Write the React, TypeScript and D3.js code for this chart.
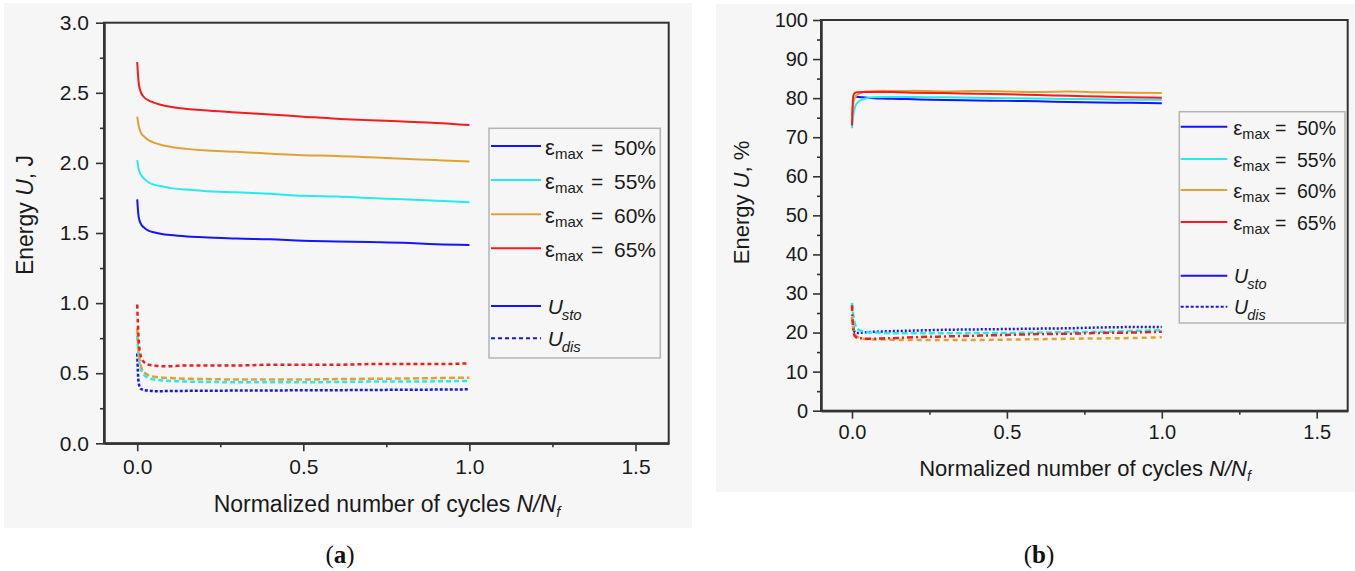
import React, { useEffect, useRef } from 'react';
import * as d3 from 'd3';

// shared x positions of the sampled points (normalized cycles N/Nf)
const cycleFractions = [0, 0.004, 0.01, 0.02, 0.035, 0.05, 0.07, 0.1, 0.15, 0.2, 0.3, 0.4, 0.5, 0.6, 0.7, 0.8, 0.9, 1.0];
const strainLevels = ['50%', '55%', '60%', '65%'];
const seriesColors = ['#1414ff', '#22eef0', '#e2a232', '#f41c1c'];

// (a) energy in J
const storedJ50 = [1.74, 1.62, 1.57, 1.54, 1.515, 1.505, 1.495, 1.485, 1.475, 1.47, 1.46, 1.455, 1.445, 1.44, 1.435, 1.43, 1.42, 1.415];
const storedJ55 = [2.02, 1.96, 1.92, 1.89, 1.86, 1.845, 1.835, 1.82, 1.81, 1.8, 1.79, 1.78, 1.765, 1.76, 1.75, 1.74, 1.73, 1.72];
const storedJ60 = [2.33, 2.27, 2.22, 2.19, 2.16, 2.145, 2.13, 2.115, 2.1, 2.09, 2.08, 2.065, 2.055, 2.05, 2.04, 2.03, 2.02, 2.01];
const storedJ65 = [2.72, 2.58, 2.51, 2.47, 2.445, 2.43, 2.415, 2.4, 2.385, 2.375, 2.36, 2.345, 2.33, 2.315, 2.305, 2.295, 2.285, 2.27];
const dissJ50 = [0.64, 0.44, 0.39, 0.38, 0.375, 0.372, 0.372, 0.373, 0.374, 0.375, 0.376, 0.377, 0.378, 0.379, 0.38, 0.382, 0.383, 0.385];
const dissJ55 = [0.77, 0.63, 0.54, 0.49, 0.465, 0.455, 0.45, 0.445, 0.44, 0.438, 0.435, 0.435, 0.435, 0.437, 0.44, 0.44, 0.442, 0.445];
const dissJ60 = [0.82, 0.66, 0.56, 0.51, 0.485, 0.475, 0.47, 0.465, 0.46, 0.458, 0.455, 0.455, 0.455, 0.458, 0.46, 0.462, 0.465, 0.468];
const dissJ65 = [0.99, 0.75, 0.63, 0.58, 0.56, 0.555, 0.55, 0.55, 0.555, 0.555, 0.555, 0.56, 0.56, 0.56, 0.565, 0.565, 0.565, 0.57];

// (b) energy in %
const storedP50 = [null, null, 80.4, 80.3, 80.2, 80.1, 80.0, 79.9, 79.8, 79.7, 79.5, 79.4, 79.3, 79.2, 79.0, 78.9, 78.8, 78.7];
const storedP55 = [72.3, 75.5, 77.8, 79.0, 79.7, 80.0, 80.2, 80.3, 80.3, 80.3, 80.2, 80.1, 80.0, 79.9, 79.8, 79.7, 79.6, 79.6];
const storedP60 = [75.5, 78.5, 80.2, 81.0, 81.5, 81.7, 81.8, 81.9, 81.8, 81.9, 81.7, 81.8, 81.7, 81.6, 81.7, 81.5, 81.4, 81.3];
const storedP65 = [73.0, 80.5, 81.4, 81.5, 81.6, 81.6, 81.6, 81.6, 81.5, 81.4, 81.3, 81.1, 81.0, 80.8, 80.6, 80.4, 80.2, 80.1];
const dissP50 = [null, 21.5, 20.0, 19.9, 20.0, 20.1, 20.2, 20.3, 20.4, 20.5, 20.7, 20.8, 20.9, 21.0, 21.1, 21.3, 21.4, 21.4];
const dissP55 = [27.6, 24.5, 22.0, 20.8, 20.3, 20.1, 20.0, 19.9, 19.8, 19.8, 19.8, 19.9, 19.9, 20.0, 20.1, 20.2, 20.4, 20.6];
const dissP60 = [24.0, 21.0, 19.5, 18.8, 18.4, 18.3, 18.2, 18.2, 18.1, 18.1, 18.1, 18.1, 18.2, 18.3, 18.4, 18.5, 18.6, 18.8];
const dissP65 = [27.0, 21.0, 19.0, 18.6, 18.5, 18.4, 18.4, 18.5, 18.6, 18.8, 19.0, 19.2, 19.4, 19.6, 19.7, 19.9, 20.0, 20.2];

const xMajorTicks = [0, 0.5, 1.0, 1.5];
const xMinorTicks = [0.25, 0.75, 1.25];

const FONT = "'Liberation Sans', Arial, sans-serif";
const AXIS_COLOR = '#333';

const panels = [
    {
        bg: [4, 3, 688, 525],
        left: 104, right: 668.7, top: 22.7, bottom: 443.3,
        yMax: 3, yMajor: d3.range(0, 3.01, 0.5), yMinor: d3.range(0.25, 3, 0.5), yFormat: d3.format('.1f'),
        tickFont: 21, tickPadX: 8, tickPadY: 7,
        stored: [storedJ50, storedJ55, storedJ60, storedJ65],
        dissipated: [dissJ50, dissJ55, dissJ60, dissJ65],
        dashes: ['3,2', '5,3', '6,3', '4,3'],
        yTitle: {x: 32.5, y: 215, unit: ', J', size: 23},
        xTitle: {x: 387, y: 512, size: 23},
        tag: {x: 340, y: 563, label: 'a'},
        legend: {
            box: [489, 128.3, 171.3, 229.7], line: [491, 541], rows: [146, 180, 214.3, 248.3],
            sto: 306, dis: 338.3, eps: 545, subGap: 10, eq: 591, pct: 614, font: 21, sub: 15, base: 9,
            uX: 547.7, uSub: 561.7, uBase: 8, disDash: '4,3'
        }
    },
    {
        bg: [716, 4, 639, 488],
        left: 821, right: 1347.7, top: 20, bottom: 410.7,
        yMax: 100, yMajor: d3.range(0, 101, 10), yMinor: d3.range(5, 100, 10), yFormat: d3.format('d'),
        tickFont: 20, tickPadX: 6, tickPadY: 5,
        stored: [storedP50, storedP55, storedP60, storedP65],
        dissipated: [dissP50, dissP55, dissP60, dissP65],
        dashes: ['2,2', '6,3', '5,4', '6,3,2,3'],
        yTitle: {x: 748.7, y: 202.5, unit: ', %', size: 22},
        xTitle: {x: 1085, y: 476, size: 22},
        tag: {x: 1039, y: 563, label: 'b'},
        legend: {
            box: [1179.3, 111.7, 165.7, 211.3], line: [1180.7, 1227.3], rows: [126.7, 159, 190, 222],
            sto: 275.7, dis: 306.7, eps: 1233.3, subGap: 9, eq: 1275, pct: 1297, font: 19.5, sub: 14.5, base: 8.3,
            uX: 1234, uSub: 1247.3, uBase: 7, disDash: '3,2'
        }
    }
];

function styleAxis(axisG, fontSize) {
    axisG.select('.domain').attr('stroke', AXIS_COLOR).attr('stroke-width', 2);
    axisG.selectAll('.tick line').attr('stroke', AXIS_COLOR).attr('stroke-width', 1.6);
    axisG.selectAll('.tick text')
        .attr('fill', '#1a1a1a')
        .style('font-family', FONT)
        .style('font-size', fontSize + 'px');
}

function drawPanel(svg, p) {
    const x = d3.scaleLinear().domain([-0.1, 1.6]).range([p.left, p.right]);
    const y = d3.scaleLinear().domain([0, p.yMax]).range([p.bottom, p.top]);
    const g = svg.append('g');

    g.append('rect')
        .attr('x', p.bg[0]).attr('y', p.bg[1])
        .attr('width', p.bg[2]).attr('height', p.bg[3])
        .attr('fill', '#f6f6f6');

    // minor ticks
    g.append('g')
        .attr('transform', `translate(0,${p.bottom})`)
        .call(d3.axisBottom(x).tickValues(xMinorTicks).tickSize(4).tickSizeOuter(0).tickFormat(() => ''))
        .call(a => styleAxis(a, p.tickFont));
    g.append('g')
        .attr('transform', `translate(${p.left},0)`)
        .call(d3.axisLeft(y).tickValues(p.yMinor).tickSize(4).tickSizeOuter(0).tickFormat(() => ''))
        .call(a => styleAxis(a, p.tickFont));

    // major ticks
    g.append('g')
        .attr('transform', `translate(0,${p.bottom})`)
        .call(d3.axisBottom(x).tickValues(xMajorTicks).tickSize(8).tickSizeOuter(0)
            .tickPadding(p.tickPadX).tickFormat(d3.format('.1f')))
        .call(a => styleAxis(a, p.tickFont));
    g.append('g')
        .attr('transform', `translate(${p.left},0)`)
        .call(d3.axisLeft(y).tickValues(p.yMajor).tickSize(8).tickSizeOuter(0)
            .tickPadding(p.tickPadY).tickFormat(p.yFormat))
        .call(a => styleAxis(a, p.tickFont));

    // frame
    g.append('rect')
        .attr('x', p.left).attr('y', p.top)
        .attr('width', p.right - p.left).attr('height', p.bottom - p.top)
        .attr('fill', 'none').attr('stroke', AXIS_COLOR).attr('stroke-width', 2);

    const line = d3.line()
        .defined(v => v != null)
        .x((_, i) => x(cycleFractions[i]))
        .y(v => y(v))
        .curve(d3.curveMonotoneX);

    p.dissipated.forEach((vals, i) => {
        g.append('path')
            .attr('d', line(vals))
            .attr('fill', 'none')
            .attr('stroke', seriesColors[i])
            .attr('stroke-width', 2.5)
            .attr('stroke-dasharray', p.dashes[i]);
    });
    p.stored.forEach((vals, i) => {
        g.append('path')
            .attr('d', line(vals))
            .attr('fill', 'none')
            .attr('stroke', seriesColors[i])
            .attr('stroke-width', 2)
            .attr('stroke-linejoin', 'round');
    });

    // axis titles
    const yt = g.append('text')
        .attr('transform', `translate(${p.yTitle.x},${p.yTitle.y}) rotate(-90)`)
        .attr('text-anchor', 'middle')
        .style('font-family', FONT).style('font-size', p.yTitle.size + 'px')
        .attr('fill', '#1a1a1a');
    yt.append('tspan').text('Energy ');
    yt.append('tspan').attr('font-style', 'italic').text('U');
    yt.append('tspan').text(p.yTitle.unit);

    const xt = g.append('text')
        .attr('x', p.xTitle.x).attr('y', p.xTitle.y)
        .attr('text-anchor', 'middle')
        .style('font-family', FONT).style('font-size', p.xTitle.size + 'px')
        .attr('fill', '#1a1a1a');
    xt.append('tspan').text('Normalized number of cycles ');
    xt.append('tspan').attr('font-style', 'italic').text('N/N');
    xt.append('tspan').attr('font-style', 'italic').attr('dy', 5)
        .style('font-size', Math.round(p.xTitle.size * 0.65) + 'px').text('f');

    const tag = g.append('text')
        .attr('x', p.tag.x).attr('y', p.tag.y)
        .attr('text-anchor', 'middle')
        .style('font-family', "'Liberation Serif', 'Times New Roman', serif").style('font-size', '25px')
        .attr('fill', '#111');
    tag.append('tspan').text('(');
    tag.append('tspan').attr('font-weight', 'bold').text(p.tag.label);
    tag.append('tspan').text(')');

    drawLegend(g, p.legend);
}

function drawLegend(g, L) {
    g.append('rect')
        .attr('x', L.box[0]).attr('y', L.box[1])
        .attr('width', L.box[2]).attr('height', L.box[3])
        .attr('fill', 'none').attr('stroke', '#b4b4b4').attr('stroke-width', 1.5);

    const txt = (x, yy, size, s, italic = false) => g.append('text')
        .attr('x', x).attr('y', yy)
        .style('font-family', FONT).style('font-size', size + 'px')
        .attr('font-style', italic ? 'italic' : 'normal')
        .attr('fill', '#1a1a1a')
        .text(s);

    strainLevels.forEach((lvl, i) => {
        const yy = L.rows[i];
        g.append('line')
            .attr('x1', L.line[0]).attr('x2', L.line[1])
            .attr('y1', yy).attr('y2', yy)
            .attr('stroke', seriesColors[i]).attr('stroke-width', 2);
        txt(L.eps, yy + L.base, L.font + 1, 'ε');
        txt(L.eps + L.subGap, yy + L.base + 4, L.sub, 'max');
        txt(L.eq, yy + L.base, L.font, '=');
        txt(L.pct, yy + L.base, L.font, lvl);
    });

    g.append('line')
        .attr('x1', L.line[0]).attr('x2', L.line[1])
        .attr('y1', L.sto).attr('y2', L.sto)
        .attr('stroke', seriesColors[0]).attr('stroke-width', 2);
    txt(L.uX, L.sto + L.uBase, L.font, 'U', true);
    txt(L.uSub, L.sto + L.uBase + 6, L.sub, 'sto', true);

    g.append('line')
        .attr('x1', L.line[0]).attr('x2', L.line[1])
        .attr('y1', L.dis).attr('y2', L.dis)
        .attr('stroke', seriesColors[0]).attr('stroke-width', 2)
        .attr('stroke-dasharray', L.disDash);
    txt(L.uX, L.dis + L.uBase, L.font, 'U', true);
    txt(L.uSub, L.dis + L.uBase + 6, L.sub, 'dis', true);
}

export default function App() {
    const ref = useRef(null);

    useEffect(() => {
        const svg = d3.select(ref.current);
        svg.selectAll('*').remove();
        panels.forEach(p => drawPanel(svg, p));
    }, []);

    return (
        <svg ref={ref} width={1355} height={571}
            style={{position: 'absolute', left: 0, top: 0, background: '#fff'}} />
    );
}
